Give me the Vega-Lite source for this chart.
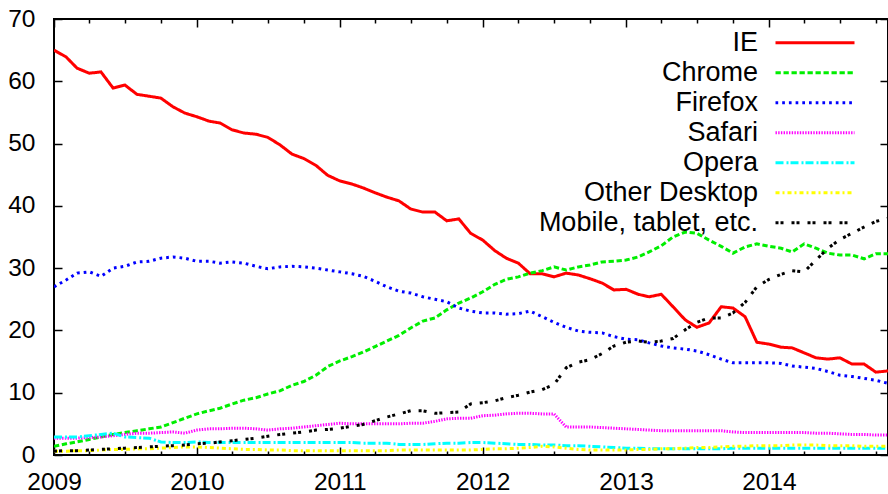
{
  "$schema": "https://vega.github.io/schema/vega-lite/v6.json",
  "width": 834,
  "height": 436,
  "autosize": {"type": "none"},
  "padding": {"left": 54, "top": 19, "right": 0, "bottom": 39},
  "background": "white",
  "config": {
    "view": {"stroke": "black", "strokeWidth": 2},
    "axis": {"grid": false, "domain": false, "tickColor": "black", "tickWidth": 1.5, "labelColor": "black", "labelFont": "Liberation Sans", "labelFontSize": 24.5, "title": null},
    "font": "Liberation Sans"
  },
  "data": {
    "format": {"parse": {"d": "utc:'%Y-%m'"}},
    "values": [
{"d":"2009-01","b":"IE","v":65.0},{"d":"2009-02","b":"IE","v":63.9},{"d":"2009-03","b":"IE","v":62.1},{"d":"2009-04","b":"IE","v":61.3},{"d":"2009-05","b":"IE","v":61.5},{"d":"2009-06","b":"IE","v":58.9},{"d":"2009-07","b":"IE","v":59.4},{"d":"2009-08","b":"IE","v":57.9},{"d":"2009-09","b":"IE","v":57.6},{"d":"2009-10","b":"IE","v":57.3},{"d":"2009-11","b":"IE","v":55.9},{"d":"2009-12","b":"IE","v":54.9},
{"d":"2010-01","b":"IE","v":54.3},{"d":"2010-02","b":"IE","v":53.6},{"d":"2010-03","b":"IE","v":53.3},{"d":"2010-04","b":"IE","v":52.2},{"d":"2010-05","b":"IE","v":51.7},{"d":"2010-06","b":"IE","v":51.5},{"d":"2010-07","b":"IE","v":51.0},{"d":"2010-08","b":"IE","v":49.8},{"d":"2010-09","b":"IE","v":48.3},{"d":"2010-10","b":"IE","v":47.6},{"d":"2010-11","b":"IE","v":46.5},{"d":"2010-12","b":"IE","v":44.9},
{"d":"2011-01","b":"IE","v":44.0},{"d":"2011-02","b":"IE","v":43.5},{"d":"2011-03","b":"IE","v":42.9},{"d":"2011-04","b":"IE","v":42.1},{"d":"2011-05","b":"IE","v":41.4},{"d":"2011-06","b":"IE","v":40.8},{"d":"2011-07","b":"IE","v":39.5},{"d":"2011-08","b":"IE","v":39.0},{"d":"2011-09","b":"IE","v":39.0},{"d":"2011-10","b":"IE","v":37.6},{"d":"2011-11","b":"IE","v":37.9},{"d":"2011-12","b":"IE","v":35.6},
{"d":"2012-01","b":"IE","v":34.5},{"d":"2012-02","b":"IE","v":32.8},{"d":"2012-03","b":"IE","v":31.6},{"d":"2012-04","b":"IE","v":30.8},{"d":"2012-05","b":"IE","v":29.1},{"d":"2012-06","b":"IE","v":29.1},{"d":"2012-07","b":"IE","v":28.6},{"d":"2012-08","b":"IE","v":29.2},{"d":"2012-09","b":"IE","v":28.9},{"d":"2012-10","b":"IE","v":28.3},{"d":"2012-11","b":"IE","v":27.6},{"d":"2012-12","b":"IE","v":26.5},
{"d":"2013-01","b":"IE","v":26.6},{"d":"2013-02","b":"IE","v":25.8},{"d":"2013-03","b":"IE","v":25.4},{"d":"2013-04","b":"IE","v":25.8},{"d":"2013-05","b":"IE","v":23.8},{"d":"2013-06","b":"IE","v":21.7},{"d":"2013-07","b":"IE","v":20.5},{"d":"2013-08","b":"IE","v":21.2},{"d":"2013-09","b":"IE","v":23.8},{"d":"2013-10","b":"IE","v":23.6},{"d":"2013-11","b":"IE","v":22.2},{"d":"2013-12","b":"IE","v":18.1},
{"d":"2014-01","b":"IE","v":17.8},{"d":"2014-02","b":"IE","v":17.3},{"d":"2014-03","b":"IE","v":17.2},{"d":"2014-04","b":"IE","v":16.4},{"d":"2014-05","b":"IE","v":15.6},{"d":"2014-06","b":"IE","v":15.4},{"d":"2014-07","b":"IE","v":15.6},{"d":"2014-08","b":"IE","v":14.6},{"d":"2014-09","b":"IE","v":14.6},{"d":"2014-10","b":"IE","v":13.3},{"d":"2014-11","b":"IE","v":13.5},

{"d":"2009-01","b":"Chrome","v":1.4},{"d":"2009-02","b":"Chrome","v":1.8},{"d":"2009-03","b":"Chrome","v":2.1},{"d":"2009-04","b":"Chrome","v":2.5},{"d":"2009-05","b":"Chrome","v":2.9},{"d":"2009-06","b":"Chrome","v":3.3},{"d":"2009-07","b":"Chrome","v":3.6},{"d":"2009-08","b":"Chrome","v":3.9},{"d":"2009-09","b":"Chrome","v":4.2},{"d":"2009-10","b":"Chrome","v":4.5},{"d":"2009-11","b":"Chrome","v":5.2},{"d":"2009-12","b":"Chrome","v":5.9},
{"d":"2010-01","b":"Chrome","v":6.6},{"d":"2010-02","b":"Chrome","v":7.1},{"d":"2010-03","b":"Chrome","v":7.5},{"d":"2010-04","b":"Chrome","v":8.2},{"d":"2010-05","b":"Chrome","v":8.8},{"d":"2010-06","b":"Chrome","v":9.2},{"d":"2010-07","b":"Chrome","v":9.8},{"d":"2010-08","b":"Chrome","v":10.3},{"d":"2010-09","b":"Chrome","v":11.2},{"d":"2010-10","b":"Chrome","v":11.8},{"d":"2010-11","b":"Chrome","v":12.8},{"d":"2010-12","b":"Chrome","v":14.2},
{"d":"2011-01","b":"Chrome","v":15.1},{"d":"2011-02","b":"Chrome","v":15.8},{"d":"2011-03","b":"Chrome","v":16.5},{"d":"2011-04","b":"Chrome","v":17.4},{"d":"2011-05","b":"Chrome","v":18.3},{"d":"2011-06","b":"Chrome","v":19.2},{"d":"2011-07","b":"Chrome","v":20.4},{"d":"2011-08","b":"Chrome","v":21.5},{"d":"2011-09","b":"Chrome","v":22.0},{"d":"2011-10","b":"Chrome","v":23.3},{"d":"2011-11","b":"Chrome","v":24.4},{"d":"2011-12","b":"Chrome","v":25.2},
{"d":"2012-01","b":"Chrome","v":26.2},{"d":"2012-02","b":"Chrome","v":27.4},{"d":"2012-03","b":"Chrome","v":28.2},{"d":"2012-04","b":"Chrome","v":28.6},{"d":"2012-05","b":"Chrome","v":29.2},{"d":"2012-06","b":"Chrome","v":29.6},{"d":"2012-07","b":"Chrome","v":30.2},{"d":"2012-08","b":"Chrome","v":29.7},{"d":"2012-09","b":"Chrome","v":30.2},{"d":"2012-10","b":"Chrome","v":30.5},{"d":"2012-11","b":"Chrome","v":31.0},{"d":"2012-12","b":"Chrome","v":31.1},
{"d":"2013-01","b":"Chrome","v":31.3},{"d":"2013-02","b":"Chrome","v":31.8},{"d":"2013-03","b":"Chrome","v":32.6},{"d":"2013-04","b":"Chrome","v":33.6},{"d":"2013-05","b":"Chrome","v":35.0},{"d":"2013-06","b":"Chrome","v":35.8},{"d":"2013-07","b":"Chrome","v":35.6},{"d":"2013-08","b":"Chrome","v":34.5},{"d":"2013-09","b":"Chrome","v":33.5},{"d":"2013-10","b":"Chrome","v":32.4},{"d":"2013-11","b":"Chrome","v":33.4},{"d":"2013-12","b":"Chrome","v":33.9},
{"d":"2014-01","b":"Chrome","v":33.5},{"d":"2014-02","b":"Chrome","v":33.2},{"d":"2014-03","b":"Chrome","v":32.6},{"d":"2014-04","b":"Chrome","v":33.9},{"d":"2014-05","b":"Chrome","v":33.2},{"d":"2014-06","b":"Chrome","v":32.4},{"d":"2014-07","b":"Chrome","v":32.1},{"d":"2014-08","b":"Chrome","v":32.1},{"d":"2014-09","b":"Chrome","v":31.5},{"d":"2014-10","b":"Chrome","v":32.3},{"d":"2014-11","b":"Chrome","v":32.3},

{"d":"2009-01","b":"Firefox","v":27.0},{"d":"2009-02","b":"Firefox","v":28.1},{"d":"2009-03","b":"Firefox","v":29.2},{"d":"2009-04","b":"Firefox","v":29.4},{"d":"2009-05","b":"Firefox","v":28.7},{"d":"2009-06","b":"Firefox","v":30.0},{"d":"2009-07","b":"Firefox","v":30.3},{"d":"2009-08","b":"Firefox","v":31.0},{"d":"2009-09","b":"Firefox","v":31.1},{"d":"2009-10","b":"Firefox","v":31.6},{"d":"2009-11","b":"Firefox","v":31.8},{"d":"2009-12","b":"Firefox","v":31.6},
{"d":"2010-01","b":"Firefox","v":31.1},{"d":"2010-02","b":"Firefox","v":31.1},{"d":"2010-03","b":"Firefox","v":30.8},{"d":"2010-04","b":"Firefox","v":31.0},{"d":"2010-05","b":"Firefox","v":30.8},{"d":"2010-06","b":"Firefox","v":30.3},{"d":"2010-07","b":"Firefox","v":29.9},{"d":"2010-08","b":"Firefox","v":30.2},{"d":"2010-09","b":"Firefox","v":30.3},{"d":"2010-10","b":"Firefox","v":30.2},{"d":"2010-11","b":"Firefox","v":30.0},{"d":"2010-12","b":"Firefox","v":29.7},
{"d":"2011-01","b":"Firefox","v":29.4},{"d":"2011-02","b":"Firefox","v":29.1},{"d":"2011-03","b":"Firefox","v":28.7},{"d":"2011-04","b":"Firefox","v":27.9},{"d":"2011-05","b":"Firefox","v":27.0},{"d":"2011-06","b":"Firefox","v":26.3},{"d":"2011-07","b":"Firefox","v":26.0},{"d":"2011-08","b":"Firefox","v":25.4},{"d":"2011-09","b":"Firefox","v":25.0},{"d":"2011-10","b":"Firefox","v":24.6},{"d":"2011-11","b":"Firefox","v":23.6},{"d":"2011-12","b":"Firefox","v":23.1},
{"d":"2012-01","b":"Firefox","v":22.8},{"d":"2012-02","b":"Firefox","v":22.8},{"d":"2012-03","b":"Firefox","v":22.6},{"d":"2012-04","b":"Firefox","v":22.7},{"d":"2012-05","b":"Firefox","v":23.1},{"d":"2012-06","b":"Firefox","v":22.2},{"d":"2012-07","b":"Firefox","v":21.3},{"d":"2012-08","b":"Firefox","v":20.5},{"d":"2012-09","b":"Firefox","v":19.9},{"d":"2012-10","b":"Firefox","v":19.7},{"d":"2012-11","b":"Firefox","v":19.6},{"d":"2012-12","b":"Firefox","v":19.0},
{"d":"2013-01","b":"Firefox","v":18.6},{"d":"2013-02","b":"Firefox","v":18.5},{"d":"2013-03","b":"Firefox","v":18.0},{"d":"2013-04","b":"Firefox","v":17.5},{"d":"2013-05","b":"Firefox","v":17.2},{"d":"2013-06","b":"Firefox","v":17.0},{"d":"2013-07","b":"Firefox","v":16.7},{"d":"2013-08","b":"Firefox","v":16.1},{"d":"2013-09","b":"Firefox","v":15.4},{"d":"2013-10","b":"Firefox","v":14.8},{"d":"2013-11","b":"Firefox","v":14.8},{"d":"2013-12","b":"Firefox","v":14.8},
{"d":"2014-01","b":"Firefox","v":14.8},{"d":"2014-02","b":"Firefox","v":14.7},{"d":"2014-03","b":"Firefox","v":14.3},{"d":"2014-04","b":"Firefox","v":14.1},{"d":"2014-05","b":"Firefox","v":13.9},{"d":"2014-06","b":"Firefox","v":13.4},{"d":"2014-07","b":"Firefox","v":12.8},{"d":"2014-08","b":"Firefox","v":12.6},{"d":"2014-09","b":"Firefox","v":12.3},{"d":"2014-10","b":"Firefox","v":12.0},{"d":"2014-11","b":"Firefox","v":11.5},

{"d":"2009-01","b":"Safari","v":2.7},{"d":"2009-02","b":"Safari","v":2.7},{"d":"2009-03","b":"Safari","v":2.7},{"d":"2009-04","b":"Safari","v":2.8},{"d":"2009-05","b":"Safari","v":2.9},{"d":"2009-06","b":"Safari","v":3.1},{"d":"2009-07","b":"Safari","v":3.3},{"d":"2009-08","b":"Safari","v":3.5},{"d":"2009-09","b":"Safari","v":3.5},{"d":"2009-10","b":"Safari","v":3.6},{"d":"2009-11","b":"Safari","v":3.7},{"d":"2009-12","b":"Safari","v":3.5},
{"d":"2010-01","b":"Safari","v":4.0},{"d":"2010-02","b":"Safari","v":4.2},{"d":"2010-03","b":"Safari","v":4.2},{"d":"2010-04","b":"Safari","v":4.3},{"d":"2010-05","b":"Safari","v":4.3},{"d":"2010-06","b":"Safari","v":4.2},{"d":"2010-07","b":"Safari","v":4.0},{"d":"2010-08","b":"Safari","v":4.2},{"d":"2010-09","b":"Safari","v":4.3},{"d":"2010-10","b":"Safari","v":4.5},{"d":"2010-11","b":"Safari","v":4.7},{"d":"2010-12","b":"Safari","v":4.9},
{"d":"2011-01","b":"Safari","v":5.1},{"d":"2011-02","b":"Safari","v":5.0},{"d":"2011-03","b":"Safari","v":5.0},{"d":"2011-04","b":"Safari","v":5.0},{"d":"2011-05","b":"Safari","v":5.0},{"d":"2011-06","b":"Safari","v":5.0},{"d":"2011-07","b":"Safari","v":5.1},{"d":"2011-08","b":"Safari","v":5.1},{"d":"2011-09","b":"Safari","v":5.4},{"d":"2011-10","b":"Safari","v":5.8},{"d":"2011-11","b":"Safari","v":5.9},{"d":"2011-12","b":"Safari","v":5.9},
{"d":"2012-01","b":"Safari","v":6.3},{"d":"2012-02","b":"Safari","v":6.4},{"d":"2012-03","b":"Safari","v":6.6},{"d":"2012-04","b":"Safari","v":6.7},{"d":"2012-05","b":"Safari","v":6.7},{"d":"2012-06","b":"Safari","v":6.6},{"d":"2012-07","b":"Safari","v":6.6},{"d":"2012-08","b":"Safari","v":4.5},{"d":"2012-09","b":"Safari","v":4.5},{"d":"2012-10","b":"Safari","v":4.5},{"d":"2012-11","b":"Safari","v":4.4},{"d":"2012-12","b":"Safari","v":4.3},
{"d":"2013-01","b":"Safari","v":4.2},{"d":"2013-02","b":"Safari","v":4.1},{"d":"2013-03","b":"Safari","v":4.0},{"d":"2013-04","b":"Safari","v":3.9},{"d":"2013-05","b":"Safari","v":3.9},{"d":"2013-06","b":"Safari","v":3.9},{"d":"2013-07","b":"Safari","v":3.9},{"d":"2013-08","b":"Safari","v":3.9},{"d":"2013-09","b":"Safari","v":3.9},{"d":"2013-10","b":"Safari","v":3.7},{"d":"2013-11","b":"Safari","v":3.6},{"d":"2013-12","b":"Safari","v":3.6},
{"d":"2014-01","b":"Safari","v":3.6},{"d":"2014-02","b":"Safari","v":3.6},{"d":"2014-03","b":"Safari","v":3.6},{"d":"2014-04","b":"Safari","v":3.6},{"d":"2014-05","b":"Safari","v":3.5},{"d":"2014-06","b":"Safari","v":3.5},{"d":"2014-07","b":"Safari","v":3.4},{"d":"2014-08","b":"Safari","v":3.3},{"d":"2014-09","b":"Safari","v":3.3},{"d":"2014-10","b":"Safari","v":3.2},{"d":"2014-11","b":"Safari","v":3.2},

{"d":"2009-01","b":"Opera","v":2.9},{"d":"2009-02","b":"Opera","v":2.9},{"d":"2009-03","b":"Opera","v":2.9},{"d":"2009-04","b":"Opera","v":3.1},{"d":"2009-05","b":"Opera","v":3.3},{"d":"2009-06","b":"Opera","v":3.5},{"d":"2009-07","b":"Opera","v":2.9},{"d":"2009-08","b":"Opera","v":2.8},{"d":"2009-09","b":"Opera","v":2.7},{"d":"2009-10","b":"Opera","v":2.1},{"d":"2009-11","b":"Opera","v":2.0},{"d":"2009-12","b":"Opera","v":2.0},
{"d":"2010-01","b":"Opera","v":2.1},{"d":"2010-02","b":"Opera","v":2.0},{"d":"2010-03","b":"Opera","v":2.0},{"d":"2010-04","b":"Opera","v":2.0},{"d":"2010-05","b":"Opera","v":2.0},{"d":"2010-06","b":"Opera","v":2.0},{"d":"2010-07","b":"Opera","v":2.0},{"d":"2010-08","b":"Opera","v":2.0},{"d":"2010-09","b":"Opera","v":2.0},{"d":"2010-10","b":"Opera","v":2.0},{"d":"2010-11","b":"Opera","v":2.0},{"d":"2010-12","b":"Opera","v":2.0},
{"d":"2011-01","b":"Opera","v":2.0},{"d":"2011-02","b":"Opera","v":2.0},{"d":"2011-03","b":"Opera","v":1.9},{"d":"2011-04","b":"Opera","v":1.9},{"d":"2011-05","b":"Opera","v":1.9},{"d":"2011-06","b":"Opera","v":1.7},{"d":"2011-07","b":"Opera","v":1.7},{"d":"2011-08","b":"Opera","v":1.7},{"d":"2011-09","b":"Opera","v":1.8},{"d":"2011-10","b":"Opera","v":1.9},{"d":"2011-11","b":"Opera","v":1.9},{"d":"2011-12","b":"Opera","v":2.0},
{"d":"2012-01","b":"Opera","v":2.0},{"d":"2012-02","b":"Opera","v":1.9},{"d":"2012-03","b":"Opera","v":1.8},{"d":"2012-04","b":"Opera","v":1.7},{"d":"2012-05","b":"Opera","v":1.7},{"d":"2012-06","b":"Opera","v":1.6},{"d":"2012-07","b":"Opera","v":1.6},{"d":"2012-08","b":"Opera","v":1.5},{"d":"2012-09","b":"Opera","v":1.5},{"d":"2012-10","b":"Opera","v":1.4},{"d":"2012-11","b":"Opera","v":1.3},{"d":"2012-12","b":"Opera","v":1.2},
{"d":"2013-01","b":"Opera","v":1.1},{"d":"2013-02","b":"Opera","v":1.1},{"d":"2013-03","b":"Opera","v":1.0},{"d":"2013-04","b":"Opera","v":1.0},{"d":"2013-05","b":"Opera","v":1.0},{"d":"2013-06","b":"Opera","v":1.0},{"d":"2013-07","b":"Opera","v":1.0},{"d":"2013-08","b":"Opera","v":1.0},{"d":"2013-09","b":"Opera","v":1.0},{"d":"2013-10","b":"Opera","v":1.1},{"d":"2013-11","b":"Opera","v":1.1},{"d":"2013-12","b":"Opera","v":1.1},
{"d":"2014-01","b":"Opera","v":1.1},{"d":"2014-02","b":"Opera","v":1.1},{"d":"2014-03","b":"Opera","v":1.1},{"d":"2014-04","b":"Opera","v":1.1},{"d":"2014-05","b":"Opera","v":1.1},{"d":"2014-06","b":"Opera","v":1.1},{"d":"2014-07","b":"Opera","v":1.1},{"d":"2014-08","b":"Opera","v":1.1},{"d":"2014-09","b":"Opera","v":1.1},{"d":"2014-10","b":"Opera","v":1.1},{"d":"2014-11","b":"Opera","v":1.1},

{"d":"2009-01","b":"Other Desktop","v":0.6},{"d":"2009-02","b":"Other Desktop","v":0.6},{"d":"2009-03","b":"Other Desktop","v":0.7},{"d":"2009-04","b":"Other Desktop","v":0.7},{"d":"2009-05","b":"Other Desktop","v":0.8},{"d":"2009-06","b":"Other Desktop","v":0.9},{"d":"2009-07","b":"Other Desktop","v":0.9},{"d":"2009-08","b":"Other Desktop","v":1.0},{"d":"2009-09","b":"Other Desktop","v":1.0},{"d":"2009-10","b":"Other Desktop","v":1.1},{"d":"2009-11","b":"Other Desktop","v":1.2},{"d":"2009-12","b":"Other Desktop","v":1.3},
{"d":"2010-01","b":"Other Desktop","v":1.3},{"d":"2010-02","b":"Other Desktop","v":1.2},{"d":"2010-03","b":"Other Desktop","v":1.1},{"d":"2010-04","b":"Other Desktop","v":1.0},{"d":"2010-05","b":"Other Desktop","v":0.9},{"d":"2010-06","b":"Other Desktop","v":0.9},{"d":"2010-07","b":"Other Desktop","v":0.8},{"d":"2010-08","b":"Other Desktop","v":0.8},{"d":"2010-09","b":"Other Desktop","v":0.7},{"d":"2010-10","b":"Other Desktop","v":0.7},{"d":"2010-11","b":"Other Desktop","v":0.7},{"d":"2010-12","b":"Other Desktop","v":0.7},
{"d":"2011-01","b":"Other Desktop","v":0.7},{"d":"2011-02","b":"Other Desktop","v":0.7},{"d":"2011-03","b":"Other Desktop","v":0.7},{"d":"2011-04","b":"Other Desktop","v":0.7},{"d":"2011-05","b":"Other Desktop","v":0.7},{"d":"2011-06","b":"Other Desktop","v":0.8},{"d":"2011-07","b":"Other Desktop","v":0.8},{"d":"2011-08","b":"Other Desktop","v":0.8},{"d":"2011-09","b":"Other Desktop","v":0.8},{"d":"2011-10","b":"Other Desktop","v":0.8},{"d":"2011-11","b":"Other Desktop","v":0.8},{"d":"2011-12","b":"Other Desktop","v":0.8},
{"d":"2012-01","b":"Other Desktop","v":0.9},{"d":"2012-02","b":"Other Desktop","v":1.0},{"d":"2012-03","b":"Other Desktop","v":1.0},{"d":"2012-04","b":"Other Desktop","v":1.1},{"d":"2012-05","b":"Other Desktop","v":1.2},{"d":"2012-06","b":"Other Desktop","v":1.4},{"d":"2012-07","b":"Other Desktop","v":1.3},{"d":"2012-08","b":"Other Desktop","v":1.1},{"d":"2012-09","b":"Other Desktop","v":0.9},{"d":"2012-10","b":"Other Desktop","v":0.8},{"d":"2012-11","b":"Other Desktop","v":0.8},{"d":"2012-12","b":"Other Desktop","v":0.8},
{"d":"2013-01","b":"Other Desktop","v":0.8},{"d":"2013-02","b":"Other Desktop","v":0.9},{"d":"2013-03","b":"Other Desktop","v":0.9},{"d":"2013-04","b":"Other Desktop","v":1.0},{"d":"2013-05","b":"Other Desktop","v":1.0},{"d":"2013-06","b":"Other Desktop","v":1.1},{"d":"2013-07","b":"Other Desktop","v":1.2},{"d":"2013-08","b":"Other Desktop","v":1.2},{"d":"2013-09","b":"Other Desktop","v":1.3},{"d":"2013-10","b":"Other Desktop","v":1.4},{"d":"2013-11","b":"Other Desktop","v":1.4},{"d":"2013-12","b":"Other Desktop","v":1.5},
{"d":"2014-01","b":"Other Desktop","v":1.5},{"d":"2014-02","b":"Other Desktop","v":1.5},{"d":"2014-03","b":"Other Desktop","v":1.6},{"d":"2014-04","b":"Other Desktop","v":1.6},{"d":"2014-05","b":"Other Desktop","v":1.6},{"d":"2014-06","b":"Other Desktop","v":1.5},{"d":"2014-07","b":"Other Desktop","v":1.5},{"d":"2014-08","b":"Other Desktop","v":1.5},{"d":"2014-09","b":"Other Desktop","v":1.4},{"d":"2014-10","b":"Other Desktop","v":1.4},{"d":"2014-11","b":"Other Desktop","v":1.4},

{"d":"2009-01","b":"Mobile, tablet, etc.","v":0.6},{"d":"2009-02","b":"Mobile, tablet, etc.","v":0.7},{"d":"2009-03","b":"Mobile, tablet, etc.","v":0.7},{"d":"2009-04","b":"Mobile, tablet, etc.","v":0.8},{"d":"2009-05","b":"Mobile, tablet, etc.","v":0.9},{"d":"2009-06","b":"Mobile, tablet, etc.","v":1.0},{"d":"2009-07","b":"Mobile, tablet, etc.","v":1.1},{"d":"2009-08","b":"Mobile, tablet, etc.","v":1.2},{"d":"2009-09","b":"Mobile, tablet, etc.","v":1.3},{"d":"2009-10","b":"Mobile, tablet, etc.","v":1.4},{"d":"2009-11","b":"Mobile, tablet, etc.","v":1.5},{"d":"2009-12","b":"Mobile, tablet, etc.","v":1.6},
{"d":"2010-01","b":"Mobile, tablet, etc.","v":1.8},{"d":"2010-02","b":"Mobile, tablet, etc.","v":1.9},{"d":"2010-03","b":"Mobile, tablet, etc.","v":2.1},{"d":"2010-04","b":"Mobile, tablet, etc.","v":2.3},{"d":"2010-05","b":"Mobile, tablet, etc.","v":2.5},{"d":"2010-06","b":"Mobile, tablet, etc.","v":2.7},{"d":"2010-07","b":"Mobile, tablet, etc.","v":3.0},{"d":"2010-08","b":"Mobile, tablet, etc.","v":3.3},{"d":"2010-09","b":"Mobile, tablet, etc.","v":3.5},{"d":"2010-10","b":"Mobile, tablet, etc.","v":3.7},{"d":"2010-11","b":"Mobile, tablet, etc.","v":4.0},{"d":"2010-12","b":"Mobile, tablet, etc.","v":4.1},
{"d":"2011-01","b":"Mobile, tablet, etc.","v":4.3},{"d":"2011-02","b":"Mobile, tablet, etc.","v":4.6},{"d":"2011-03","b":"Mobile, tablet, etc.","v":4.9},{"d":"2011-04","b":"Mobile, tablet, etc.","v":5.5},{"d":"2011-05","b":"Mobile, tablet, etc.","v":6.1},{"d":"2011-06","b":"Mobile, tablet, etc.","v":6.6},{"d":"2011-07","b":"Mobile, tablet, etc.","v":7.1},{"d":"2011-08","b":"Mobile, tablet, etc.","v":7.1},{"d":"2011-09","b":"Mobile, tablet, etc.","v":6.7},{"d":"2011-10","b":"Mobile, tablet, etc.","v":6.8},{"d":"2011-11","b":"Mobile, tablet, etc.","v":6.9},{"d":"2011-12","b":"Mobile, tablet, etc.","v":8.2},
{"d":"2012-01","b":"Mobile, tablet, etc.","v":8.4},{"d":"2012-02","b":"Mobile, tablet, etc.","v":8.7},{"d":"2012-03","b":"Mobile, tablet, etc.","v":9.2},{"d":"2012-04","b":"Mobile, tablet, etc.","v":9.6},{"d":"2012-05","b":"Mobile, tablet, etc.","v":10.1},{"d":"2012-06","b":"Mobile, tablet, etc.","v":10.5},{"d":"2012-07","b":"Mobile, tablet, etc.","v":11.3},{"d":"2012-08","b":"Mobile, tablet, etc.","v":14.0},{"d":"2012-09","b":"Mobile, tablet, etc.","v":14.9},{"d":"2012-10","b":"Mobile, tablet, etc.","v":15.3},{"d":"2012-11","b":"Mobile, tablet, etc.","v":16.3},{"d":"2012-12","b":"Mobile, tablet, etc.","v":17.5},
{"d":"2013-01","b":"Mobile, tablet, etc.","v":18.1},{"d":"2013-02","b":"Mobile, tablet, etc.","v":18.3},{"d":"2013-03","b":"Mobile, tablet, etc.","v":18.1},{"d":"2013-04","b":"Mobile, tablet, etc.","v":18.3},{"d":"2013-05","b":"Mobile, tablet, etc.","v":18.7},{"d":"2013-06","b":"Mobile, tablet, etc.","v":20.1},{"d":"2013-07","b":"Mobile, tablet, etc.","v":21.3},{"d":"2013-08","b":"Mobile, tablet, etc.","v":22.0},{"d":"2013-09","b":"Mobile, tablet, etc.","v":22.0},{"d":"2013-10","b":"Mobile, tablet, etc.","v":22.8},{"d":"2013-11","b":"Mobile, tablet, etc.","v":24.5},{"d":"2013-12","b":"Mobile, tablet, etc.","v":27.0},
{"d":"2014-01","b":"Mobile, tablet, etc.","v":28.2},{"d":"2014-02","b":"Mobile, tablet, etc.","v":29.0},{"d":"2014-03","b":"Mobile, tablet, etc.","v":29.6},{"d":"2014-04","b":"Mobile, tablet, etc.","v":29.4},{"d":"2014-05","b":"Mobile, tablet, etc.","v":31.3},{"d":"2014-06","b":"Mobile, tablet, etc.","v":33.2},{"d":"2014-07","b":"Mobile, tablet, etc.","v":34.6},{"d":"2014-08","b":"Mobile, tablet, etc.","v":35.6},{"d":"2014-09","b":"Mobile, tablet, etc.","v":36.6},{"d":"2014-10","b":"Mobile, tablet, etc.","v":37.5},{"d":"2014-11","b":"Mobile, tablet, etc.","v":38.0}
    ]
  },
  "layer": [
    {
      "mark": {"type": "line", "strokeWidth": 3, "strokeCap": "butt", "strokeJoin": "miter", "clip": true},
      "encoding": {
        "x": {"field": "d", "type": "temporal",
          "scale": {"type": "utc", "domain": [{"year": 2009, "month": 1, "date": 1, "utc": true}, {"year": 2014, "month": 11, "date": 1, "utc": true}]},
          "axis": {"orient": "bottom", "values": [{"year": 2009, "utc": true}, {"year": 2010, "utc": true}, {"year": 2011, "utc": true}, {"year": 2012, "utc": true}, {"year": 2013, "utc": true}, {"year": 2014, "utc": true}], "format": "%Y", "tickSize": -8, "labelPadding": 23, "labelFlush": false, "labelOverlap": false}},
        "y": {"field": "v", "type": "quantitative",
          "scale": {"domain": [0, 70], "nice": false, "zero": false},
          "axis": {"orient": "left", "values": [0, 10, 20, 30, 40, 50, 60, 70], "tickSize": -8, "labelPadding": 27, "labelFlush": false, "labelOverlap": false}},
        "color": {"field": "b", "type": "nominal", "title": null,
          "scale": {"domain": ["IE", "Chrome", "Firefox", "Safari", "Opera", "Other Desktop", "Mobile, tablet, etc."],
                    "range": ["#ff0000", "#00ee00", "#0000ff", "#ff00ff", "#00ffff", "#ffff00", "#000000"]},
          "legend": {"orient": "none", "legendX": 720, "legendY": 9, "symbolType": "stroke", "symbolSize": 6241, "symbolStrokeWidth": 3, "labelAlign": "right", "labelBaseline": "middle", "labelOffset": -98, "labelFontSize": 27, "labelFont": "Liberation Sans", "labelColor": "black", "labelLimit": 600, "clipHeight": 29.3, "rowPadding": 0, "padding": 0,
            "encode": {"entries": {"update": {"width": {"value": 90}}}}}},
        "strokeDash": {"field": "b", "type": "nominal", "title": null,
          "scale": {"domain": ["IE", "Chrome", "Firefox", "Safari", "Opera", "Other Desktop", "Mobile, tablet, etc."],
                    "range": [[1, 0], [5.3, 2.7], [2.7, 4], [1.4, 1.3], [8, 3, 2, 2], [4, 3, 2, 3], [3, 2, 3, 8]]},
          "legend": {"orient": "none", "legendX": 720, "legendY": 9, "symbolType": "stroke", "symbolSize": 6241, "symbolStrokeWidth": 3, "labelAlign": "right", "labelBaseline": "middle", "labelOffset": -98, "labelFontSize": 27, "labelFont": "Liberation Sans", "labelColor": "black", "labelLimit": 600, "clipHeight": 29.3, "rowPadding": 0, "padding": 0,
            "encode": {"entries": {"update": {"width": {"value": 90}}}}}}
      }
    },
    {
      "mark": {"type": "point", "opacity": 0},
      "encoding": {
        "x": {"field": "d", "type": "temporal",
          "scale": {"type": "utc", "domain": [{"year": 2009, "month": 1, "date": 1, "utc": true}, {"year": 2014, "month": 11, "date": 1, "utc": true}]},
          "axis": {"orient": "top", "values": [{"year": 2009, "utc": true}, {"year": 2010, "utc": true}, {"year": 2011, "utc": true}, {"year": 2012, "utc": true}, {"year": 2013, "utc": true}, {"year": 2014, "utc": true}], "tickSize": -8, "labels": false}},
        "y": {"field": "v", "type": "quantitative",
          "scale": {"domain": [0, 70], "nice": false, "zero": false},
          "axis": {"orient": "right", "values": [0, 10, 20, 30, 40, 50, 60, 70], "tickSize": -8, "labels": false}}
      }
    },
    {
      "mark": {"type": "point", "opacity": 0},
      "encoding": {
        "x": {"field": "d", "type": "temporal",
          "scale": {"type": "utc", "domain": [{"year": 2009, "month": 1, "date": 1, "utc": true}, {"year": 2014, "month": 11, "date": 1, "utc": true}]},
          "axis": {"orient": "bottom", "values": [
            {"year": 2009, "month": 4, "utc": true}, {"year": 2009, "month": 7, "utc": true}, {"year": 2009, "month": 10, "utc": true},
            {"year": 2010, "month": 4, "utc": true}, {"year": 2010, "month": 7, "utc": true}, {"year": 2010, "month": 10, "utc": true},
            {"year": 2011, "month": 4, "utc": true}, {"year": 2011, "month": 7, "utc": true}, {"year": 2011, "month": 10, "utc": true},
            {"year": 2012, "month": 4, "utc": true}, {"year": 2012, "month": 7, "utc": true}, {"year": 2012, "month": 10, "utc": true},
            {"year": 2013, "month": 4, "utc": true}, {"year": 2013, "month": 7, "utc": true}, {"year": 2013, "month": 10, "utc": true},
            {"year": 2014, "month": 4, "utc": true}, {"year": 2014, "month": 7, "utc": true}, {"year": 2014, "month": 10, "utc": true}],
            "tickSize": -4, "labels": false}},
        "y": {"field": "v", "type": "quantitative", "scale": {"domain": [0, 70], "nice": false, "zero": false}, "axis": null}
      }
    },
    {
      "mark": {"type": "point", "opacity": 0},
      "encoding": {
        "x": {"field": "d", "type": "temporal",
          "scale": {"type": "utc", "domain": [{"year": 2009, "month": 1, "date": 1, "utc": true}, {"year": 2014, "month": 11, "date": 1, "utc": true}]},
          "axis": {"orient": "top", "values": [
            {"year": 2009, "month": 4, "utc": true}, {"year": 2009, "month": 7, "utc": true}, {"year": 2009, "month": 10, "utc": true},
            {"year": 2010, "month": 4, "utc": true}, {"year": 2010, "month": 7, "utc": true}, {"year": 2010, "month": 10, "utc": true},
            {"year": 2011, "month": 4, "utc": true}, {"year": 2011, "month": 7, "utc": true}, {"year": 2011, "month": 10, "utc": true},
            {"year": 2012, "month": 4, "utc": true}, {"year": 2012, "month": 7, "utc": true}, {"year": 2012, "month": 10, "utc": true},
            {"year": 2013, "month": 4, "utc": true}, {"year": 2013, "month": 7, "utc": true}, {"year": 2013, "month": 10, "utc": true},
            {"year": 2014, "month": 4, "utc": true}, {"year": 2014, "month": 7, "utc": true}, {"year": 2014, "month": 10, "utc": true}],
            "tickSize": -4, "labels": false}},
        "y": {"field": "v", "type": "quantitative", "scale": {"domain": [0, 70], "nice": false, "zero": false}, "axis": null}
      }
    }
  ],
  "resolve": {"axis": {"x": "independent", "y": "independent"}}
}
